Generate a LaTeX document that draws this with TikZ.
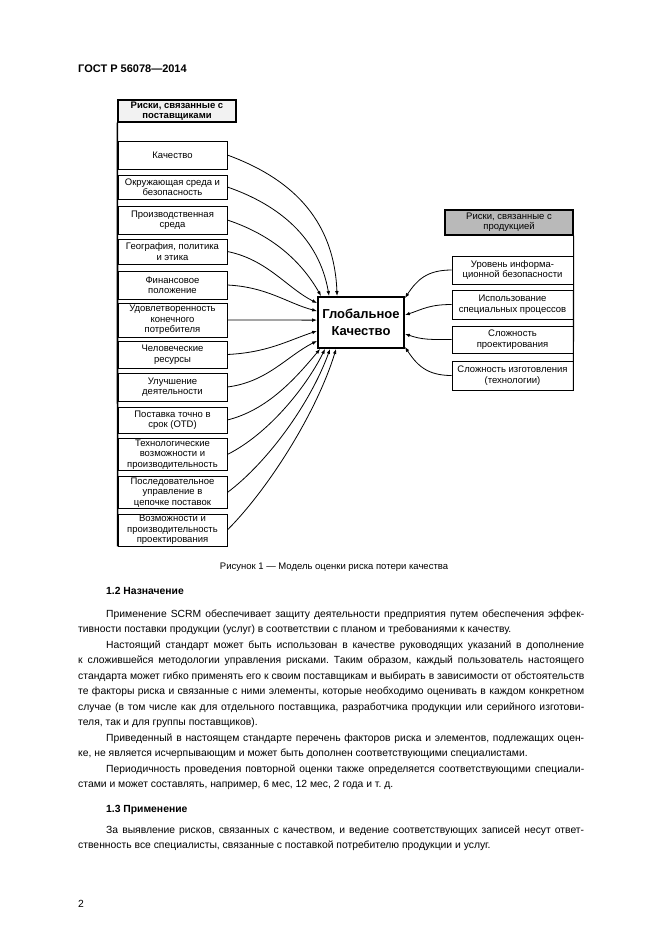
\documentclass[tikz,border=0pt]{standalone}
\usepackage{fontspec}
\setmainfont{Liberation Sans}
\usetikzlibrary{arrows.meta}
\frenchspacing
\newcommand\jfull[1]{\makebox[506pt][s]{#1}}
\newcommand\jind[1]{\makebox[478pt][s]{#1}}
\begin{document}
\begin{tikzpicture}[x=1pt,y=-1pt,
  lbox/.style={draw, line width=0.7pt, inner sep=1pt, align=center, minimum width=109pt, font=\fontsize{9.5}{10.5}\selectfont},
  rbox/.style={draw, line width=0.7pt, inner sep=1pt, align=center, minimum width=121pt, font=\fontsize{9.5}{10.8}\selectfont},
  hdr/.style={draw, line width=1.3pt, inner sep=1pt, align=center, font=\fontsize{9.5}{10}\selectfont},
  core/.style={draw, line width=1.8pt, inner sep=1pt, align=center, minimum width=86pt, minimum height=51pt, font=\fontsize{13}{17}\selectfont\bfseries},
  arr/.style={line width=0.8pt, -{Latex[length=5pt,width=3.6pt]}},
  txt/.style={inner sep=0pt, anchor=base west, font=\fontsize{10.35}{15.4}\selectfont},
  hd/.style={inner sep=0pt, anchor=base west, font=\fontsize{10.35}{15.4}\selectfont\bfseries}]
\useasboundingbox (0,0) rectangle (661,935);
\fill[white] (0,0) rectangle (661,935);

% page header
\node[inner sep=0pt, anchor=base west, font=\fontsize{11}{13}\selectfont\bfseries] (gost) at (78,72) {ГОСТ Р 56078—2014};

% left column
\node[hdr, fill=gray!10, minimum width=118pt, minimum height=22pt, font=\fontsize{9.5}{10}\selectfont\bfseries] (lh) at (177,111) {Риски, связанные с\\поставщиками};
\node[lbox, minimum height=28pt] (l1) at (172.5,155) {Качество};
\node[lbox, minimum height=24pt] (l2) at (172.5,187) {Окружающая среда и\\безопасность};
\node[lbox, minimum height=28pt] (l3) at (172.5,220) {Производственная\\среда};
\node[lbox, minimum height=25pt] (l4) at (172.5,251.5) {География, политика\\и этика};
\node[lbox, minimum height=28pt] (l5) at (172.5,285) {Финансовое\\положение};
\node[lbox, minimum height=34pt] (l6) at (172.5,320) {Удовлетворенность\\конечного\\потребителя};
\node[lbox, minimum height=27pt] (l7) at (172.5,354.5) {Человеческие\\ресурсы};
\node[lbox, minimum height=28pt] (l8) at (172.5,387) {Улучшение\\деятельности};
\node[lbox, minimum height=26pt] (l9) at (172.5,420) {Поставка точно в\\срок (OTD)};
\node[lbox, minimum height=31pt] (l10) at (172.5,454.5) {Технологические\\возможности и\\производительность};
\node[lbox, minimum height=31pt] (l11) at (172.5,492.5) {Последовательное\\управление в\\цепочке поставок};
\node[lbox, minimum height=32pt] (l12) at (172.5,530) {Возможности и\\производительность\\проектирования};
\draw[line width=1.6pt] (lh.south west) -- (l12.south west);

% centre
\node[core] (c) at (361,322.5) {Глобальное\\Качество};

% right column
\node[hdr, fill=gray!55, minimum width=128pt, minimum height=25pt] (rh) at (509,222.5) {Риски, связанные с\\продукцией};
\node[rbox, minimum height=28pt] (r1) at (512.5,270) {Уровень информа-\\ционной безопасности};
\node[rbox, minimum height=29pt] (r2) at (512.5,304.5) {Использование\\специальных процессов};
\node[rbox, minimum height=27pt] (r3) at (512.5,339.5) {Сложность\\проектирования};
\node[rbox, minimum height=29pt] (r4) at (512.5,375.5) {Сложность изготовления\\(технологии)};
\draw[line width=1.1pt] (rh.south east) -- (r4.south east);

% arrows from the left
\draw[arr] (l1.east) .. controls +(60,22) and +(-3,-80) .. ([xshift=20pt]c.north west);
\draw[arr] (l2.east) .. controls +(52,18) and +(-10,-58) .. ([xshift=12pt]c.north west);
\draw[arr] (l3.east) .. controls +(45,15) and +(-20,-35) .. ([xshift=4pt]c.north west);
\draw[arr] (l4.east) .. controls +(40,8) and +(-30,-15) .. ([yshift=-7pt]c.north west);
\draw[arr] (l5.east) .. controls +(40,2) and +(-30,-8) .. ([yshift=-15pt]c.north west);
\draw[arr] (l6.east) .. controls +(40,0) and +(-30,0) .. ([yshift=-24pt]c.north west);
\draw[arr] (l7.east) .. controls +(40,-2) and +(-30,10) .. ([yshift=18pt]c.south west);
\draw[arr] (l8.east) .. controls +(40,-5) and +(-30,15) .. ([yshift=8pt]c.south west);
\draw[arr] (l9.east) .. controls +(40,-10) and +(-25,30) .. ([xshift=3pt]c.south west);
\draw[arr] (l10.east) .. controls +(40,-20) and +(-20,40) .. ([xshift=8pt]c.south west);
\draw[arr] (l11.east) .. controls +(40,-30) and +(-20,55) .. ([xshift=13pt]c.south west);
\draw[arr] (l12.east) .. controls +(40,-40) and +(-20,65) .. ([xshift=19pt]c.south west);

% arrows from the right
\draw[arr] (r1.west) .. controls +(-25,0) and +(12,-18) .. ([yshift=-2pt]c.north east);
\draw[arr] (r2.west) .. controls +(-22,0) and +(18,-6) .. ([yshift=-19pt]c.north east);
\draw[arr] (r3.west) .. controls +(-22,0) and +(18,6) .. ([yshift=15pt]c.south east);
\draw[arr] (r4.west) .. controls +(-25,0) and +(12,18) .. ([yshift=2pt]c.south east);

% caption
\node[inner sep=0pt, anchor=base, font=\fontsize{9.5}{12}\selectfont] (cap) at (334,569) {Рисунок 1 — Модель оценки риска потери качества};

% body text
\node[hd] (h12) at (106,594) {1.2 Назначение};
\node[txt] (a1) at (106,617) {\jind{Применение SCRM обеспечивает защиту деятельности предприятия путем обеспечения эффек-}};
\node[txt] (a2) at (78,632.5) {тивности поставки продукции (услуг) в соответствии с планом и требованиями к качеству.};
\node[txt] (b1) at (106,648) {\jind{Настоящий стандарт может быть использован в качестве руководящих указаний в дополнение}};
\node[txt] (b2) at (78,663.5) {\jfull{к сложившейся методологии управления рисками. Таким образом, каждый пользователь настоящего}};
\node[txt] (b3) at (78,679) {\jfull{стандарта может гибко применять его к своим поставщикам и выбирать в зависимости от обстоятельств}};
\node[txt] (b4) at (78,694.5) {\jfull{те факторы риска и связанные с ними элементы, которые необходимо оценивать в каждом конкретном}};
\node[txt] (b5) at (78,710) {\jfull{случае (в том числе как для отдельного поставщика, разработчика продукции или серийного изготови-}};
\node[txt] (b6) at (78,725.5) {теля, так и для группы поставщиков).};
\node[txt] (c1) at (106,741) {\jind{Приведенный в настоящем стандарте перечень факторов риска и элементов, подлежащих оцен-}};
\node[txt] (c2) at (78,756.5) {ке, не является исчерпывающим и может быть дополнен соответствующими специалистами.};
\node[txt] (d1) at (106,772) {\jind{Периодичность проведения повторной оценки также определяется соответствующими специали-}};
\node[txt] (d2) at (78,787.5) {стами и может составлять, например, 6 мес, 12 мес, 2 года и т. д.};
\node[hd] (h13) at (106,812) {1.3 Применение};
\node[txt] (e1) at (106,833) {\jind{За выявление рисков, связанных с качеством, и ведение соответствующих записей несут ответ-}};
\node[txt] (e2) at (78,848.5) {ственность все специалисты, связанные с поставкой потребителю продукции и услуг.};
\node[txt] (pg) at (78,907) {2};
\end{tikzpicture}
\end{document}
